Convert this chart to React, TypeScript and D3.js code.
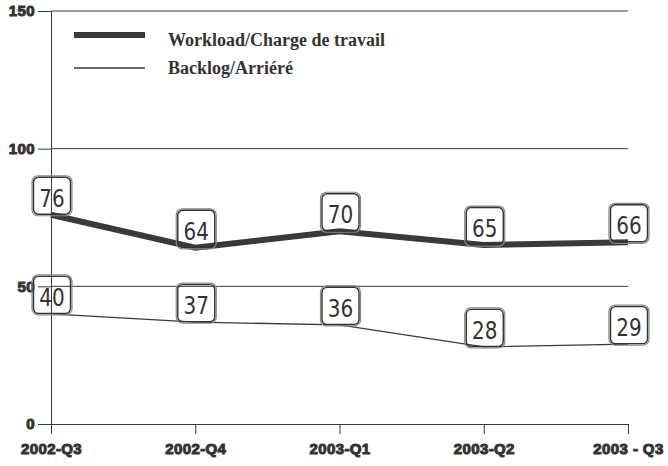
import { useEffect, useRef } from 'react';
import * as d3 from 'd3';

const quarters = ['2002-Q3', '2002-Q4', '2003-Q1', '2003-Q2', '2003 - Q3'];
const workload = [76, 64, 70, 65, 66];
const backlog = [40, 37, 36, 28, 29];
const yTicks = [0, 50, 100, 150];
const legendLabels = ['Workload/Charge de travail', 'Backlog/Arriéré'];

const W = 668;
const H = 466;
const INK = '#3a3a3a';

export default function App() {
  const svgRef = useRef<SVGSVGElement>(null);

  useEffect(() => {
    if (!svgRef.current) return;
    const svg = d3.select(svgRef.current);
    svg.selectAll('*').remove();

    const margin = { top: 11, right: 40, bottom: 42, left: 51 };
    const width = W - margin.left - margin.right;
    const height = H - margin.top - margin.bottom;

    const g = svg.append('g').attr('transform', `translate(${margin.left},${margin.top})`);

    const x = d3.scalePoint<string>().domain(quarters).range([0, width]);
    const y = d3.scaleLinear().domain([0, 150]).range([height, 0]);

    const styleTicks = (sel: d3.Selection<any, any, any, any>) => {
      sel.select('.domain').attr('stroke', INK);
      sel.selectAll('.tick line').attr('stroke', INK);
      sel
        .selectAll('.tick text')
        .attr('fill', '#333')
        .attr('stroke', '#333')
        .attr('stroke-width', 1)
        .style('font-family', '"Liberation Sans", Arial, sans-serif')
        .style('font-weight', 'bold')
        .style('font-size', '15px')
        .style('letter-spacing', '0.4px');
    };

    // grid lines
    g.selectAll('.grid')
      .data(yTicks.filter((t) => t > 0))
      .enter()
      .append('line')
      .attr('x1', 0)
      .attr('x2', width)
      .attr('y1', (d) => y(d))
      .attr('y2', (d) => y(d))
      .attr('stroke', INK)
      .attr('stroke-width', 1);

    // y axis
    const yAxis = g.append('g').call(d3.axisLeft(y).tickValues(yTicks).tickSize(13).tickPadding(3));
    styleTicks(yAxis);

    // x axis
    const xAxis = g
      .append('g')
      .attr('transform', `translate(0,${height})`)
      .call(d3.axisBottom(x).tickSize(10).tickPadding(9));
    styleTicks(xAxis);

    const series = [
      { values: workload, width: 6 },
      { values: backlog, width: 1.3 }
    ];

    series.forEach((s) => {
      const line = d3
        .line<number>()
        .x((_, i) => x(quarters[i]) as number)
        .y((d) => y(d));
      g.append('path')
        .datum(s.values)
        .attr('fill', 'none')
        .attr('stroke', INK)
        .attr('stroke-width', s.width)
        .attr('d', line);
    });

    // value boxes
    series.forEach((s) => {
      s.values.forEach((v, i) => {
        const cx = (x(quarters[i]) as number) + 1;
        const cy = y(v);
        const lab = g.append('g').attr('transform', `translate(${cx},${cy})`);
        lab
          .append('rect')
          .attr('x', -20)
          .attr('y', -39)
          .attr('width', 40)
          .attr('height', 40)
          .attr('rx', 6)
          .attr('fill', 'none')
          .attr('stroke', '#888')
          .attr('stroke-width', 1.2);
        lab
          .append('rect')
          .attr('x', -18.5)
          .attr('y', -37.5)
          .attr('width', 37)
          .attr('height', 37)
          .attr('rx', 5)
          .attr('fill', 'none')
          .attr('stroke', '#333')
          .attr('stroke-width', 1.4);
        lab
          .append('text')
          .attr('transform', 'translate(0,-8) scale(0.8,1)')
          .attr('text-anchor', 'middle')
          .attr('fill', '#333')
          .style('font-family', '"DejaVu Sans", sans-serif')
          .style('font-size', '25px')
          .text(String(v));
      });
    });

    // legend
    const legend = svg.append('g');
    const legendRows = [
      { lineY: 35, textY: 46, sw: 6 },
      { lineY: 68, textY: 74, sw: 1.3 }
    ];
    legendRows.forEach((r, i) => {
      legend
        .append('line')
        .attr('x1', 74)
        .attr('x2', 145)
        .attr('y1', r.lineY)
        .attr('y2', r.lineY)
        .attr('stroke', INK)
        .attr('stroke-width', r.sw);
      legend
        .append('text')
        .attr('x', 168)
        .attr('y', r.textY)
        .attr('fill', '#333')
        .style('font-family', '"Liberation Serif", "Times New Roman", serif')
        .style('font-weight', 'bold')
        .style('font-size', '18px')
        .text(legendLabels[i]);
    });
  }, []);

  return (
    <div style={{ position: 'absolute', left: 0, top: 0, background: '#fff' }}>
      <svg ref={svgRef} width={W} height={H} style={{ display: 'block' }} />
    </div>
  );
}
